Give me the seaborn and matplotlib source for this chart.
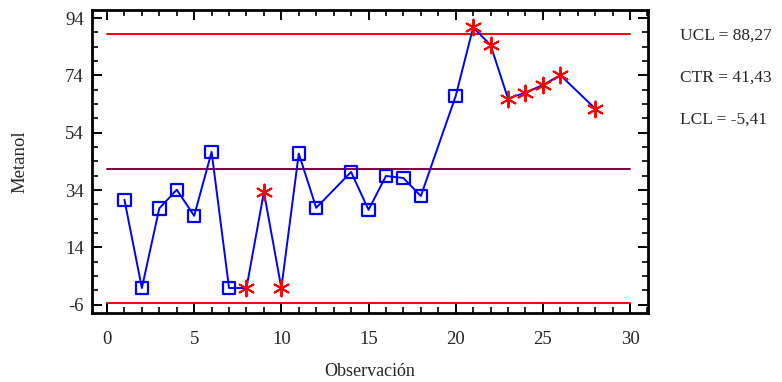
import matplotlib
matplotlib.use("Agg")
import matplotlib.pyplot as plt
import seaborn as sns
import pandas as pd
from matplotlib.ticker import MultipleLocator, FixedLocator

sns.set_theme(style="white")
plt.rcParams['font.family'] = ['Liberation Serif', 'DejaVu Serif']
plt.rcParams['axes.unicode_minus'] = False

observacion = [1, 2, 3, 4, 5, 6, 7, 8, 9, 10, 11, 12, 14, 15, 16, 17, 18, 20, 21, 22, 23, 24, 25, 26, 28]
metanol = [30.6, -0.2, 27.6, 34.1, 25.0, 47.3, -0.2, -0.2, 33.3, -0.2, 46.7, 27.8, 40.3, 27.1, 38.9, 38.2,
           31.9, 66.8, 90.7, 84.6, 65.9, 68.0, 70.6, 74.1, 62.4]
fuera = [False, False, False, False, False, False, False, True, True, True, False, False, False, False, False,
         False, False, False, True, True, True, True, True, True, True]
ucl, ctr, lcl = 88.27, 41.43, -5.41
limit_labels = ["UCL = 88,27", "CTR = 41,43", "LCL = -5,41"]
y_ticks = [-6, 14, 34, 54, 74, 94]
x_ticks = [0, 5, 10, 15, 20, 25, 30]

df = pd.DataFrame({"obs": observacion, "val": metanol, "out": fuera})

fig = plt.figure(figsize=(7.82, 3.82), dpi=100)
ax = fig.add_axes([92/782, 1-313/382, (648-92)/782, (313-10)/382])

x0, x1 = 0, 30
ax.plot([x0, x1], [ucl, ucl], color="#ff0000", lw=1.4, zorder=1)
ax.plot([x0, x1], [lcl, lcl], color="#ff0000", lw=1.4, zorder=1)
ax.plot([x0, x1], [ctr, ctr], color="#800040", lw=1.4, zorder=1)

sns.lineplot(data=df, x="obs", y="val", ax=ax, color="#0000ff", lw=1.4, sort=False, zorder=2)
sns.scatterplot(data=df[~df.out], x="obs", y="val", ax=ax, marker="s", s=80, facecolor="none",
                edgecolor="#0000ff", linewidth=1.6, zorder=3)
sns.scatterplot(data=df[df.out], x="obs", y="val", ax=ax, marker=(6, 2, 0), s=130,
                color="#ff0000", edgecolor="#ff0000", linewidth=1.4, zorder=3)

ax.set_xlim(-0.86, 31.03)
ax.set_ylim(-8.9, 96.8)
ax.xaxis.set_major_locator(FixedLocator(x_ticks))
ax.xaxis.set_minor_locator(MultipleLocator(1))
ax.yaxis.set_major_locator(FixedLocator(y_ticks))
ax.yaxis.set_minor_locator(FixedLocator([v for v in range(-6, 95, 5)]))
ax.tick_params(axis="both", which="both", direction="in", top=True, right=True,
               bottom=True, left=True, color="black", labelsize=13.5)
ax.tick_params(which="major", length=7, width=1.4)
ax.tick_params(which="minor", length=4, width=1.2)
ax.tick_params(axis="x", which="major", pad=13)
ax.tick_params(axis="y", which="major", pad=6)
for s in ax.spines.values():
    s.set_color("black")
    s.set_linewidth(2)

ax.set_xlabel("Observación", fontsize=13, labelpad=11)
ax.set_ylabel("Metanol", fontsize=13.5, labelpad=26)

for lab, yp in zip(limit_labels, [36, 78, 120]):
    fig.text(680/782, 1-yp/382, lab, fontsize=12.5, va="center", ha="left")

fig.savefig("out.png", dpi=100)
